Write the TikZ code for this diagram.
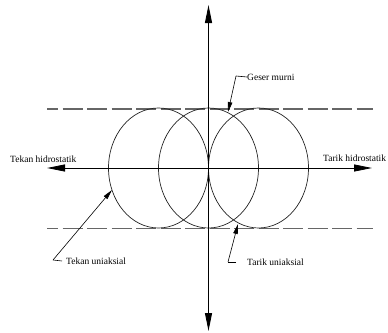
\documentclass[tikz,border=0pt]{standalone}
\usepackage{fontspec}
\setmainfont{Liberation Serif}
\usetikzlibrary{arrows.meta}
\begin{document}
\begin{tikzpicture}[x=1pt,y=-1pt,
  axis/.style={line width=0.8pt,-{Triangle[length=18pt,width=7pt]}},
  bothaxis/.style={line width=0.8pt,{Triangle[length=18pt,width=7pt]}-{Triangle[length=18pt,width=7pt]}},
  guide/.style={draw=black!60,line width=1.1pt,dash pattern=on 20pt off 4.5pt,dash phase=9pt},
  curve/.style={draw=black!85,line width=0.7pt},
  leader/.style={line width=0.6pt,-{Triangle[length=10pt,width=4.5pt]}},
  lbl/.style={inner sep=0pt,anchor=west,font=\fontsize{9.5}{11}\selectfont}]
\useasboundingbox (0,0) rectangle (388,332);
% dashed guides
\coordinate (tl) at (47,109); \coordinate (tr) at (373,109);
\coordinate (bl) at (47,228.5); \coordinate (br) at (373,228.5);
\draw[guide] (tl) -- (tr);
\draw[guide] (bl) -- (br);
% ellipses
\draw[curve] (158.5,168) ellipse [x radius=50, y radius=60];
\draw[curve] (208.5,168) ellipse [x radius=50, y radius=60];
\draw[curve] (258.5,168) ellipse [x radius=50, y radius=60];
% axes
\coordinate (xl) at (47,168); \coordinate (xr) at (372,168);
\coordinate (yt) at (208.5,5); \coordinate (yb) at (208.5,331);
\draw[bothaxis] (xl) -- (xr);
\draw[bothaxis] (yb) -- (yt);
% labels
\node[lbl] (th) at (10,159) {Tekan hidrostatik};
\node[lbl] (rh) at (323,158) {Tarik hidrostatik};
\node[lbl] (gm) at (247,77) {Geser murni};
\node[lbl] (tu) at (66,261) {Tekan uniaksial};
\node[lbl] (ru) at (247,262) {Tarik uniaksial};
% leaders
\coordinate (gmk) at (236,76); \coordinate (gmt) at (228,112);
\coordinate (tuk) at (53,260); \coordinate (tut) at (112,190);
\coordinate (ruk) at (228,262); \coordinate (rut) at (238,224);
\draw[line width=0.6pt] (gm.west) -- (gmk);
\draw[leader] (gmk) -- (gmt);
\draw[line width=0.6pt] (tu.west) ++(-4,0) -- (tuk);
\draw[leader] (tuk) -- (tut);
\draw[line width=0.6pt] (ru.west) ++(-11,0) -- (ruk);
\draw[leader] (ruk) -- (rut);
\end{tikzpicture}
\end{document}
